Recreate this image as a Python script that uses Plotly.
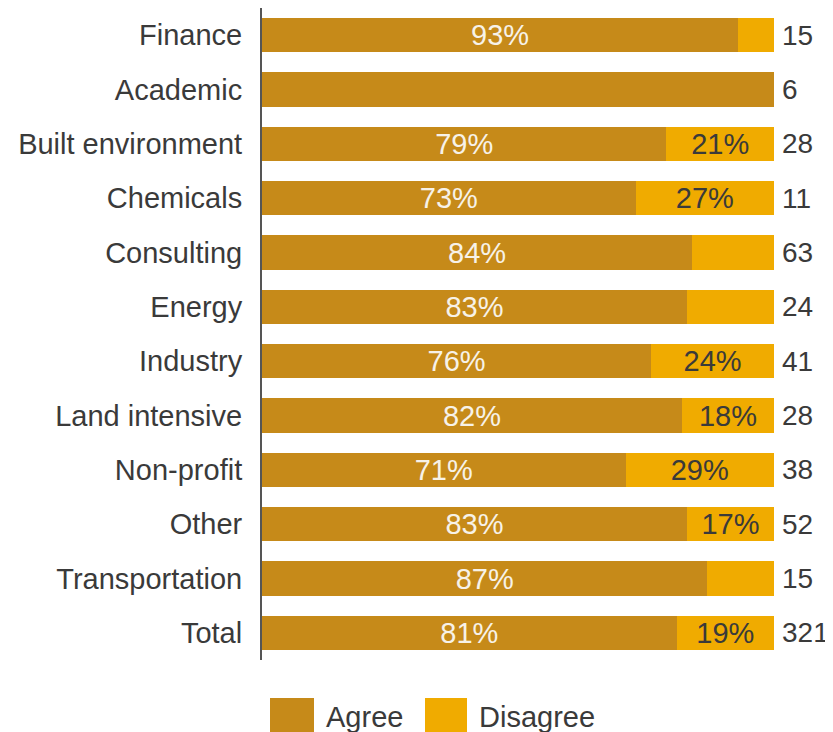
import plotly.graph_objects as go

categories = ["Finance", "Academic", "Built environment", "Chemicals", "Consulting",
              "Energy", "Industry", "Land intensive", "Non-profit", "Other",
              "Transportation", "Total"]
agree = [93, 100, 79, 73, 84, 83, 76, 82, 71, 83, 87, 81]
disagree = [7, 0, 21, 27, 16, 17, 24, 18, 29, 17, 13, 19]
agree_labels = ["93%", "", "79%", "73%", "84%", "83%", "76%", "82%", "71%", "83%", "87%", "81%"]
disagree_labels = ["", "", "21%", "27%", "", "", "24%", "18%", "29%", "17%", "", "19%"]
counts = [15, 6, 28, 11, 63, 24, 41, 28, 38, 52, 15, 321]

AGREE_C = "#C68A19"
DIS_C = "#F0AB00"
FONT = "Arial, Liberation Sans, sans-serif"
FS = 29
TXT = "#3a3a3a"

# page body has an 8px default margin: the figure is drawn offset by (8, 8)
OFF = 8
W, H = 833, 740
ML = 262 - OFF
MT = 8 - OFF
PLOT_R = 774 - OFF
PLOT_B = 660 - OFF
MR = W - PLOT_R
MB = H - PLOT_B
PW, PH = W - ML - MR, H - MT - MB

fig = go.Figure()
fig.add_trace(go.Bar(y=categories, x=agree, orientation="h", name="Agree",
                     marker=dict(color=AGREE_C, line=dict(width=0)),
                     text=agree_labels, textposition="inside", insidetextanchor="middle",
                     constraintext="none",
                     textfont=dict(color="#F7F2E8", size=FS, family=FONT),
                     cliponaxis=False, showlegend=False))
fig.add_trace(go.Bar(y=categories, x=disagree, orientation="h", name="Disagree",
                     marker=dict(color=DIS_C, line=dict(width=0)),
                     text=disagree_labels, textposition="inside", insidetextanchor="middle",
                     constraintext="none",
                     textfont=dict(color=TXT, size=FS, family=FONT),
                     cliponaxis=False, showlegend=False))

for c, n in zip(categories, counts):
    fig.add_annotation(x=100, y=c, xref="x", yref="y", text=str(n), showarrow=False,
                       xanchor="left", xshift=6, font=dict(size=FS - 1, color=TXT, family=FONT))

def px_x(p):
    return (p - OFF - ML) / PW

def px_y(p):
    return (PLOT_B - (p - OFF)) / PH

legend_items = [("Agree", AGREE_C, 270, 314, 324), ("Disagree", DIS_C, 425, 467, 477)]
for name, col, x0, x1, tx in legend_items:
    fig.add_shape(type="rect", xref="paper", yref="paper",
                  x0=px_x(x0), x1=px_x(x1), y0=px_y(698), y1=px_y(745),
                  fillcolor=col, line=dict(width=0))
    fig.add_annotation(xref="paper", yref="paper", x=px_x(tx), y=px_y(717), text=name,
                       showarrow=False, xanchor="left", yanchor="middle",
                       font=dict(size=FS, color=TXT, family=FONT))

fig.update_layout(
    width=W, height=H, barmode="stack", bargap=0.37,
    margin=dict(l=ML, r=MR, t=MT, b=MB, autoexpand=False),
    plot_bgcolor="white", paper_bgcolor="white",
    font=dict(family=FONT, size=FS, color=TXT),
    xaxis=dict(range=[0, 100], visible=False, fixedrange=True),
    yaxis=dict(autorange="reversed", showline=True, linecolor="#555555", linewidth=2,
               ticks="", showgrid=False, ticklabelstandoff=12,
               tickfont=dict(size=FS, color=TXT, family=FONT)),
)

fig.write_html("out.html")
